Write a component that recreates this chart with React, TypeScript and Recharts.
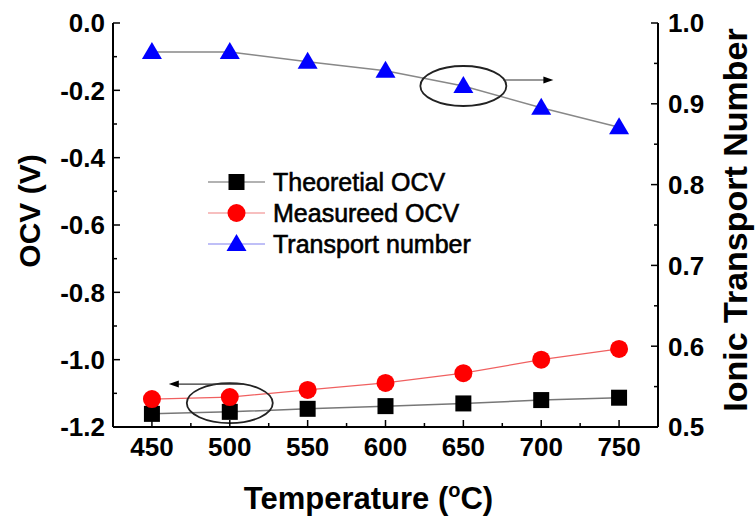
import { LineChart, Line, XAxis, YAxis, Legend, ReferenceDot } from 'recharts';

document.body.style.margin = '0';

const FONT = '"Liberation Sans", Arial, sans-serif';

const temperatures = [450, 500, 550, 600, 650, 700, 750];
const theoreticalOcv = [-1.161, -1.155, -1.146, -1.138, -1.13, -1.12, -1.113];
const measuredOcv = [-1.117, -1.111, -1.09, -1.069, -1.04, -1.0, -0.968];
const transportNumber = [0.964, 0.964, 0.952, 0.941, 0.922, 0.895, 0.871];

const xTicks = [450, 475, 500, 525, 550, 575, 600, 625, 650, 675, 700, 725, 750];
const leftTicks = [0, -0.1, -0.2, -0.3, -0.4, -0.5, -0.6, -0.7, -0.8, -0.9, -1.0, -1.1, -1.2];
const rightTicks = [0.5, 0.55, 0.6, 0.65, 0.7, 0.75, 0.8, 0.85, 0.9, 0.95, 1.0];

const dados = temperatures.map((t, i) => ({
    temp: t,
    theoretical: theoreticalOcv[i],
    measured: measuredOcv[i],
    transport: transportNumber[i],
}));

const legendItems = [
    { name: 'Theoretial OCV', line: '#666', shape: 'square', color: '#000' },
    { name: 'Measureed OCV', line: '#f08080', shape: 'circle', color: '#ff0000' },
    { name: 'Transport number', line: '#8080f0', shape: 'triangle', color: '#0000ff' },
];

const marker = (shape: string, cx: number, cy: number, color: string) => {
    if (shape === 'square') return <rect x={cx - 8} y={cy - 8} width={16} height={16} fill={color} />;
    if (shape === 'circle') return <circle cx={cx} cy={cy} r={9} fill={color} />;
    return <polygon points={`${cx},${cy - 10} ${cx + 10},${cy + 7} ${cx - 10},${cy + 7}`} fill={color} />;
};

const isMajor = (v: number, step: number) => Math.abs(v / step - Math.round(v / step)) < 1e-6;

const LeftTick = ({ x, y, payload }: any) => (
    <g>
        <line x1={x} x2={x + (isMajor(payload.value, 0.2) ? 7 : 4)} y1={y} y2={y} stroke="#000" strokeWidth={1.5} />
        {isMajor(payload.value, 0.2) && (
            <text x={x - 8} y={y} dy="0.36em" textAnchor="end" fontFamily={FONT} fontWeight="bold" fontSize={26} fill="#000">
                {payload.value.toFixed(1)}
            </text>
        )}
    </g>
);

const RightTick = ({ x, y, payload }: any) => (
    <g>
        <line x1={x} x2={x - (isMajor(payload.value, 0.1) ? 7 : 4)} y1={y} y2={y} stroke="#000" strokeWidth={1.5} />
        {isMajor(payload.value, 0.1) && (
            <text x={x + 10} y={y} dy="0.36em" textAnchor="start" fontFamily={FONT} fontWeight="bold" fontSize={26} fill="#000">
                {payload.value.toFixed(1)}
            </text>
        )}
    </g>
);

const BottomTick = ({ x, y, payload }: any) => (
    <g>
        <line x1={x} x2={x} y1={y} y2={y - (isMajor(payload.value, 50) ? 7 : 4)} stroke="#000" strokeWidth={1.5} />
        {isMajor(payload.value, 50) && (
            <text x={x} y={y + 29} textAnchor="middle" fontFamily={FONT} fontWeight="bold" fontSize={26} fill="#000">
                {payload.value}
            </text>
        )}
    </g>
);

const TopTick = ({ x, y, payload }: any) => (
    <line x1={x} x2={x} y1={y} y2={y + (isMajor(payload.value, 50) ? 7 : 4)} stroke="#000" strokeWidth={1.5} />
);

const LegendBox = () => (
    <svg width={280} height={100}>
        {legendItems.map((item, i) => {
            const cy = 14 + i * 31;
            return (
                <g key={item.name}>
                    <line x1={3} x2={60} y1={cy} y2={cy} stroke={item.line} strokeWidth={1.2} />
                    {marker(item.shape, 31.5, cy, item.color)}
                    <text x={68} y={cy} dy="0.36em" fontFamily={FONT} fontSize={25} fill="#000" stroke="#000" strokeWidth={0.6}>
                        {item.name}
                    </text>
                </g>
            );
        })}
    </svg>
);

const EllipseRight = ({ cx, cy }: any) => (
    <g>
        <ellipse cx={cx} cy={cy} rx={43} ry={20} fill="none" stroke="#222" strokeWidth={1.8} />
        <line x1={cx + 40} x2={cx + 82} y1={cy - 6} y2={cy - 6} stroke="#333" strokeWidth={1.2} />
        <polygon points={`${cx + 90},${cy - 6} ${cx + 80},${cy - 9.5} ${cx + 80},${cy - 2.5}`} fill="#000" />
    </g>
);

const EllipseLeft = ({ cx, cy }: any) => (
    <g>
        <ellipse cx={cx} cy={cy} rx={43} ry={20} fill="none" stroke="#222" strokeWidth={1.8} />
        <line x1={cx + 14} x2={cx - 53} y1={cy - 19} y2={cy - 19} stroke="#333" strokeWidth={1.2} />
        <polygon points={`${cx - 61},${cy - 19} ${cx - 51},${cy - 22.5} ${cx - 51},${cy - 15.5}`} fill="#000" />
    </g>
);

const AxisTitle = ({ viewBox, value, dx, dy, angle, size }: any) => {
    const cx = viewBox.x + dx;
    const cy = viewBox.y + dy;
    return (
        <text x={cx} y={cy} textAnchor="middle" dominantBaseline="central" transform={angle ? `rotate(${angle} ${cx} ${cy})` : undefined}
            fontFamily={FONT} fontWeight="bold" fontSize={size} fill="#000">
            {value}
        </text>
    );
};

export default function App() {
    return (
        <LineChart width={756} height={523} data={dados} margin={{ top: 23, right: 0, bottom: 0, left: 0 }}>
            <XAxis
                dataKey="temp"
                type="number"
                domain={[425, 775]}
                ticks={xTicks}
                interval={0}
                height={96}
                axisLine={{ stroke: '#000', strokeWidth: 2 }}
                tickLine={false}
                tickSize={0}
                tickMargin={0}
                tick={<BottomTick />}
                label={{
                    content: (p: any) => (
                        <text x={p.viewBox.x + p.viewBox.width / 2 - 17} y={509} textAnchor="middle" fontFamily={FONT} fontWeight="bold" fontSize={31} fill="#000">
                            Temperature (<tspan fontSize={20} dy={-12}>o</tspan><tspan dy={12}>C)</tspan>
                        </text>
                    ),
                }}
            />
            <XAxis
                xAxisId="top"
                dataKey="temp"
                type="number"
                orientation="top"
                domain={[425, 775]}
                ticks={xTicks}
                interval={0}
                height={0}
                axisLine={{ stroke: '#000', strokeWidth: 2 }}
                tickLine={false}
                tickSize={0}
                tickMargin={0}
                tick={<TopTick />}
            />
            <YAxis
                yAxisId="left"
                domain={[-1.2, 0]}
                ticks={leftTicks}
                interval={0}
                width={113}
                axisLine={{ stroke: '#000', strokeWidth: 2 }}
                tickLine={false}
                tickSize={0}
                tickMargin={0}
                tick={<LeftTick />}
                label={{ content: (p: any) => <AxisTitle viewBox={p.viewBox} value="OCV (V)" dx={29} dy={188} angle={-90} size={30} /> }}
            />
            <YAxis
                yAxisId="right"
                orientation="right"
                domain={[0.5, 1.0]}
                ticks={rightTicks}
                interval={0}
                width={98}
                axisLine={{ stroke: '#000', strokeWidth: 2 }}
                tickLine={false}
                tickSize={0}
                tickMargin={0}
                tick={<RightTick />}
                label={{ content: (p: any) => <AxisTitle viewBox={p.viewBox} value="Ionic Transport Number" dx={77} dy={197} angle={-90} size={34} /> }}
            />
            <Line
                type="linear"
                yAxisId="left"
                dataKey="theoretical"
                stroke="#777"
                strokeWidth={1.5}
                isAnimationActive={false}
                dot={(p: any) => <g key={p.index}>{marker('square', p.cx, p.cy, '#000')}</g>}
            />
            <Line
                type="linear"
                yAxisId="left"
                dataKey="measured"
                stroke="#f06060"
                strokeWidth={1.2}
                isAnimationActive={false}
                dot={(p: any) => <g key={p.index}>{marker('circle', p.cx, p.cy, '#ff0000')}</g>}
            />
            <Line
                type="linear"
                yAxisId="right"
                dataKey="transport"
                stroke="#888"
                strokeWidth={1.5}
                isAnimationActive={false}
                dot={(p: any) => <g key={p.index}>{marker('triangle', p.cx, p.cy, '#0000ff')}</g>}
            />
            <ReferenceDot yAxisId="right" x={650} y={0.922} shape={<EllipseRight />} />
            <ReferenceDot yAxisId="left" x={500} y={-1.129} shape={<EllipseLeft />} />
            <Legend
                layout="horizontal"
                verticalAlign="middle"
                align="center"
                content={<LegendBox />}
                wrapperStyle={{ position: 'absolute', left: 205, top: 168, width: 280, height: 100 }}
            />
        </LineChart>
    );
}
